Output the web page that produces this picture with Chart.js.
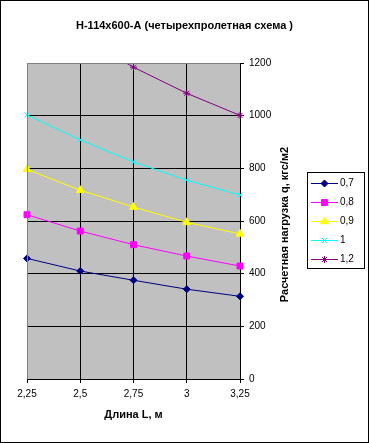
<!DOCTYPE html>
<html>
<head>
<meta charset="utf-8">
<script src="https://cdn.jsdelivr.net/npm/chart.js@4/dist/chart.umd.min.js"></script>
<style>
  html, body { margin: 0; padding: 0; background: #fff; }
  canvas { display: block; }
</style>
</head>
<body>
<canvas id="chart" width="369" height="443"></canvas>
<script>
// chart data
const categories = ['2,25', '2,5', '2,75', '3', '3,25'];
const seriesNames = ['0,7', '0,8', '0,9', '1', '1,2'];
const s07 = [458, 410, 375, 341, 314];
const s08 = [624, 562, 510, 467, 429];
const s09 = [796, 717, 653, 595, 551];
const s10 = [1003, 908, 824, 755, 699];
const s12 = [1440, 1300, 1184, 1085, 1001];
const yTicks = [0, 200, 400, 600, 800, 1000, 1200];

const FONT = 'Arial, "Liberation Sans", sans-serif';

const styles = [
    { color: '#000080', point: 'rectRot', r: 3.5 },
    { color: '#ff00ff', point: 'rect', r: 4.2 },
    { color: '#ffff00', point: 'triangle', r: 4.5 },
    { color: '#00ffff', point: 'crossRot', r: 3.5 },
    { color: '#800080', point: 'star', r: 3.5 }
];

const datasets = [s07, s08, s09, s10, s12].map((vals, i) => ({
    label: seriesNames[i],
    data: vals,
    borderColor: styles[i].color,
    backgroundColor: styles[i].color,
    borderWidth: 1,
    pointStyle: styles[i].point,
    pointRadius: styles[i].r,
    pointBorderWidth: 1,
    pointHoverRadius: styles[i].r,
    tension: 0,
    fill: false
}));

// plot background, border, title, legend and y title drawn Excel-style
const excelLook = {
    id: 'excelLook',
    beforeDraw(chart) {
        const { ctx, chartArea: a } = chart;
        ctx.save();
        ctx.fillStyle = '#fff';
        ctx.fillRect(0, 0, chart.width, chart.height);
        ctx.fillStyle = '#c0c0c0';
        ctx.fillRect(a.left, a.top, a.right - a.left, a.bottom - a.top);
        ctx.restore();
    },
    afterDatasetsDraw(chart) {
        const { ctx, chartArea: a } = chart;
        ctx.save();
        ctx.strokeStyle = '#808080';
        ctx.lineWidth = 1;
        ctx.beginPath();
        ctx.moveTo(Math.round(a.left) + 0.5, Math.round(a.bottom));
        ctx.lineTo(Math.round(a.left) + 0.5, Math.round(a.top) + 0.5);
        ctx.lineTo(Math.round(a.right), Math.round(a.top) + 0.5);
        ctx.stroke();
        ctx.restore();
    },
    afterDraw(chart) {
        const { ctx } = chart;
        ctx.save();
        ctx.fillStyle = '#000';
        ctx.textBaseline = 'middle';

        // chart title
        ctx.font = 'bold 11px ' + FONT;
        ctx.textAlign = 'center';
        ctx.fillText('Н-114х600-А (четырехпролетная схема )', 184.5, 26);

        // y axis title, reads bottom to top
        ctx.translate(284.5, 224.5);
        ctx.rotate(-Math.PI / 2);
        ctx.fillText('Расчетная нагрузка q, кгс/м2', 0, 0);
        ctx.setTransform(1, 0, 0, 1, 0, 0);

        // legend box
        ctx.strokeStyle = '#000';
        ctx.lineWidth = 1;
        ctx.strokeRect(307.5, 172.5, 57, 96);
        ctx.font = '10px ' + FONT;
        ctx.textAlign = 'left';
        chart.data.datasets.forEach((ds, i) => {
            const y = Math.round(182.7 + i * 19.15) + 0.5;
            ctx.strokeStyle = ds.borderColor;
            ctx.beginPath();
            ctx.moveTo(311, y);
            ctx.lineTo(338, y);
            ctx.stroke();
            if (Chart.helpers && Chart.helpers.drawPoint) {
                ctx.fillStyle = ds.backgroundColor;
                Chart.helpers.drawPoint(ctx, {
                    pointStyle: ds.pointStyle,
                    radius: ds.pointRadius,
                    rotation: 0,
                    borderWidth: 1
                }, 324.5, y);
            }
            ctx.fillStyle = '#000';
            ctx.fillText(ds.label, 340, y);
        });

        // outer frame
        ctx.strokeStyle = '#000';
        ctx.strokeRect(0.5, 0.5, chart.width - 1, chart.height - 1);
        ctx.restore();
    }
};

const ctx = document.getElementById('chart').getContext('2d');
const chart = new Chart(ctx, {
    type: 'line',
    data: {
        labels: categories,
        datasets: datasets
    },
    options: {
        responsive: false,
        animation: false,
        layout: {
            padding: { left: 27, right: 0, top: 63, bottom: 0 }
        },
        plugins: {
            legend: { display: false },
            tooltip: { enabled: false },
            title: { display: false }
        },
        scales: {
            x: {
                type: 'category',
                offset: false,
                afterFit: function(scale) { scale.height = 64; },
                grid: {
                    color: function(c) { return c.index === 0 ? 'rgba(0,0,0,0)' : '#000'; },
                    tickColor: '#000',
                    tickLength: 4,
                    lineWidth: 1
                },
                border: { color: '#000', width: 1 },
                ticks: {
                    color: '#000',
                    font: { family: FONT, size: 10 },
                    padding: 5,
                    maxRotation: 0,
                    autoSkip: false
                },
                title: {
                    display: true,
                    text: 'Длина L, м',
                    color: '#000',
                    font: { family: FONT, size: 11, weight: 'bold' },
                    padding: { top: 0, bottom: 21 }
                }
            },
            y: {
                position: 'right',
                min: yTicks[0],
                max: yTicks[yTicks.length - 1],
                afterFit: function(scale) { scale.width = 129; },
                afterBuildTicks: function(scale) {
                    scale.ticks = yTicks.map(v => ({ value: v }));
                },
                grid: {
                    color: function(c) { return c.tick && c.tick.value === 1200 ? 'rgba(0,0,0,0)' : '#000'; },
                    tickColor: '#000',
                    tickLength: 4,
                    lineWidth: 1
                },
                border: { color: '#000', width: 1 },
                ticks: {
                    color: '#000',
                    font: { family: FONT, size: 10 },
                    padding: 5,
                    callback: function(value) { return String(value); }
                }
            }
        }
    },
    plugins: [excelLook]
});
</script>
</body>
</html>
